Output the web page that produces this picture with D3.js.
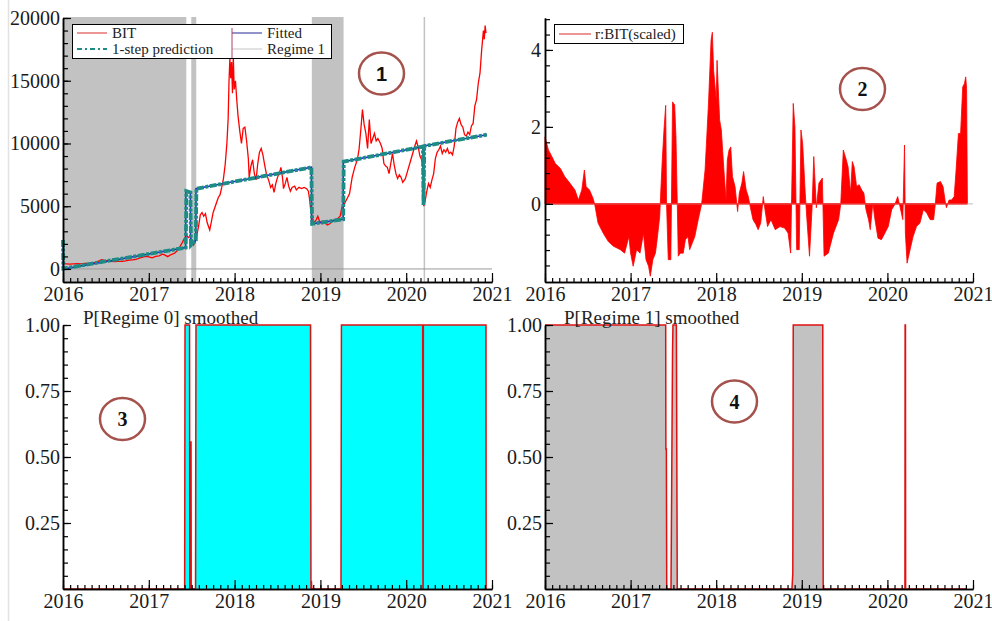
<!DOCTYPE html>
<html>
<head>
<meta charset="utf-8">
<script src="https://cdn.jsdelivr.net/npm/d3@7"></script>
<style>
  body { margin: 0; background: #fff; }
  svg { display: block; font-family: "Liberation Serif", "Times New Roman", serif; }
</style>
</head>
<body>
<svg id="fig" width="992" height="621"></svg>
<script>
// ---------- data ----------
const yearTicks = [2016, 2017, 2018, 2019, 2020, 2021];

// BIT price (decimal year, USD)
const bitDates = [
  2016.00,2016.04,2016.08,2016.12,2016.17,2016.21,2016.25,2016.29,2016.33,2016.38,
  2016.42,2016.45,2016.48,2016.52,2016.56,2016.60,2016.64,2016.69,2016.73,2016.77,
  2016.81,2016.85,2016.90,2016.94,2016.98,2017.01,2017.04,2017.08,2017.12,2017.16,
  2017.19,2017.22,2017.26,2017.30,2017.33,2017.36,2017.39,2017.42,2017.44,2017.46,
  2017.48,2017.50,2017.52,2017.54,2017.56,2017.58,2017.60,2017.62,2017.64,2017.66,
  2017.68,2017.71,2017.73,2017.75,2017.77,2017.79,2017.81,2017.83,2017.85,2017.87,
  2017.89,2017.91,2017.925,2017.935,2017.945,2017.955,2017.965,2017.975,2017.985,2017.995,
  2018.01,2018.025,2018.04,2018.06,2018.08,2018.10,2018.12,2018.14,2018.16,2018.17,
  2018.19,2018.21,2018.23,2018.25,2018.27,2018.29,2018.31,2018.33,2018.35,2018.37,
  2018.40,2018.42,2018.44,2018.46,2018.48,2018.50,2018.52,2018.54,2018.56,2018.57,
  2018.59,2018.61,2018.63,2018.65,2018.67,2018.70,2018.72,2018.75,2018.78,2018.81,
  2018.84,2018.86,2018.875,2018.89,2018.91,2018.93,2018.95,2018.97,2018.99,2019.02,
  2019.05,2019.08,2019.11,2019.14,2019.17,2019.20,2019.23,2019.25,2019.28,2019.31,
  2019.34,2019.37,2019.40,2019.43,2019.45,2019.47,2019.49,2019.51,2019.53,2019.55,
  2019.57,2019.59,2019.61,2019.63,2019.65,2019.67,2019.70,2019.72,2019.74,2019.76,
  2019.78,2019.80,2019.82,2019.84,2019.86,2019.88,2019.90,2019.92,2019.94,2019.96,
  2019.99,2020.02,2020.05,2020.08,2020.10,2020.12,2020.14,2020.16,2020.18,2020.195,
  2020.205,2020.22,2020.24,2020.26,2020.28,2020.30,2020.32,2020.34,2020.36,2020.38,
  2020.40,2020.42,2020.44,2020.46,2020.48,2020.50,2020.52,2020.54,2020.56,2020.58,
  2020.60,2020.62,2020.64,2020.66,2020.68,2020.70,2020.72,2020.74,2020.76,2020.78,
  2020.80,2020.82,2020.84,2020.86,2020.88,2020.90,2020.91,2020.92,2020.93
];
const bitPrices = [
  420,400,380,410,420,410,440,450,460,530,
  640,740,680,660,600,580,600,610,640,700,
  730,760,880,960,1000,950,880,1000,1050,1180,
  1100,980,1150,1250,1450,1750,2100,2500,2700,2500,
  2600,2300,1900,2100,2700,3400,4300,4500,4200,4400,
  3700,3100,3800,4500,4900,5300,5700,5900,6500,7200,
  8300,10000,12000,15000,16800,15200,16500,14000,16900,14300,
  15000,13500,12200,11000,10000,11200,11300,10200,8800,7300,
  8200,8700,7600,7100,8400,9300,9600,9100,8300,7600,
  7000,6500,6700,6100,6800,7300,7600,8100,7200,6400,
  6800,7300,6600,6200,6500,6600,6300,6500,6400,6500,
  6400,6200,5500,4500,4000,3700,3900,4200,3800,3600,
  3700,3500,3600,3800,3950,4000,4200,4900,5200,5600,
  6000,7300,8100,8700,9500,11000,12700,11500,10800,9600,
  11900,10000,10400,10800,10200,10400,10000,9600,8400,8200,
  8100,7600,8400,9200,8300,7600,7200,7500,7300,6900,
  7200,7900,8600,9300,9800,10200,9700,9000,8700,7900,
  5000,5400,6200,6800,6500,7100,7600,8800,9300,9500,
  9800,9200,9500,9300,9600,9200,9300,9100,9800,11200,
  11700,12000,11500,11300,10700,10600,10900,10700,11400,11600,
  13000,13500,14800,15600,17500,19000,18300,19400,18800
];

// Fitted values (regime means)
const fitDates  = [2016.000,2016.003,2017.430,2017.432,2017.485,2017.487,2017.548,2017.550,2018.895,2018.897,2019.265,2019.267,2020.195,2020.197,2020.207,2020.940];
const fitValues = [2100,0,1700,6200,6100,1900,2300,6400,8100,3600,3950,8550,9750,5200,9800,10700];

// 1-step predictions
const predDates  = [2016.000,2016.004,2017.430,2017.434,2017.437,2017.485,2017.488,2017.492,2017.548,2017.551,2017.555,2018.895,2018.898,2018.901,2018.904,2019.265,2019.268,2019.272,2020.195,2020.198,2020.202,2020.206,2020.210,2020.940];
const predValues = [2300,30,1700,3500,6200,6100,4000,1900,2300,4500,6400,8100,6500,4800,3600,3950,5500,8550,9750,7500,5100,7000,9800,10700];

// Periods classified as regime 1 (start, end)
const regime1Start = [2016.000, 2017.495, 2018.900, 2020.203];
const regime1End   = [2017.437, 2017.553, 2019.270, 2020.208];

// Scaled residuals r:BIT
const resDates = [
  2016.00,2016.04,2016.08,2016.12,2016.18,2016.23,2016.29,2016.35,2016.39,2016.43,
  2016.46,2016.48,2016.52,2016.56,2016.58,2016.62,2016.68,2016.74,2016.80,2016.88,
  2016.93,2016.98,2017.00,2017.03,2017.07,2017.11,2017.15,2017.18,2017.21,2017.23,
  2017.26,2017.29,2017.31,2017.34,2017.35,2017.37,2017.39,2017.41,2017.42,2017.44,
  2017.47,2017.49,2017.515,2017.53,2017.545,2017.557,2017.58,2017.615,2017.64,2017.67,
  2017.69,2017.75,2017.79,2017.83,2017.87,2017.91,2017.94,2017.955,2017.97,2018.00,
  2018.01,2018.04,2018.06,2018.09,2018.115,2018.13,2018.15,2018.17,2018.19,2018.22,
  2018.25,2018.27,2018.30,2018.32,2018.35,2018.375,2018.40,2018.43,2018.465,2018.49,
  2018.52,2018.55,2018.57,2018.60,2018.64,2018.69,2018.745,2018.80,2018.84,2018.87,
  2018.90,2018.92,2018.94,2018.97,2018.99,2019.01,2019.04,2019.06,2019.09,2019.12,
  2019.14,2019.17,2019.20,2019.24,2019.26,2019.31,2019.37,2019.43,2019.455,2019.485,
  2019.52,2019.54,2019.57,2019.59,2019.61,2019.64,2019.67,2019.70,2019.725,2019.75,
  2019.78,2019.80,2019.83,2019.855,2019.89,2019.93,2019.97,2020.01,2020.05,2020.09,
  2020.12,2020.15,2020.18,2020.20,2020.21,2020.23,2020.265,2020.30,2020.34,2020.38,
  2020.42,2020.46,2020.50,2020.54,2020.56,2020.58,2020.62,2020.65,2020.68,2020.69,
  2020.72,2020.75,2020.78,2020.80,2020.83,2020.855,2020.88,2020.90,2020.915,2020.925,
  2020.935
];
const resValues = [
  1.74,1.40,1.23,1.05,0.92,0.71,0.54,0.36,0.10,0.36,
  0.88,0.45,0.36,0.15,0.00,-0.50,-0.76,-0.98,-1.10,-1.19,
  -1.28,-0.85,-1.28,-1.62,-1.19,-1.28,-0.76,-1.45,-1.62,-1.88,
  -1.45,-1.28,-0.93,-0.33,0.19,1.14,1.92,2.56,0.00,-1.45,
  -1.45,2.65,2.57,1.74,0.03,-1.36,-1.28,-1.28,-0.93,-0.85,
  -1.19,-0.85,-0.41,0.00,0.88,2.61,4.25,4.46,3.47,2.69,
  3.73,2.18,1.92,0.88,0.10,1.14,1.40,1.48,0.71,0.45,
  -0.20,0.28,0.54,0.84,0.36,0.19,-0.10,-0.41,-0.54,-0.67,
  -0.50,0.19,-0.15,-0.59,-0.41,-0.67,-0.59,-0.63,-0.76,-1.28,
  2.61,2.00,-1.19,-1.19,1.92,1.57,0.28,-0.41,-1.36,-0.10,
  1.23,-0.10,0.54,0.67,-1.36,-1.28,-0.76,-0.41,0.00,1.40,
  1.14,0.97,0.28,1.10,0.97,0.45,0.50,0.36,0.28,-0.15,
  -0.41,-0.67,0.02,-0.41,-0.89,-0.93,-0.76,-0.59,-0.15,0.00,
  0.19,-0.10,-0.41,1.53,-0.76,-1.54,-1.19,-0.85,-0.59,-0.50,
  -0.15,-0.24,-0.41,-0.41,0.00,0.54,0.58,0.45,0.00,-0.10,
  0.10,0.10,0.19,0.80,1.83,1.83,3.04,3.13,3.30,3.00,
  0.00
];

// Smoothed regime probabilities
const p0Dates  = [2016.000,2017.418,2017.422,2017.475,2017.478,2017.490,2017.492,2017.494,2017.545,2017.550,2018.885,2018.890,2018.895,2018.900,2019.240,2019.245,2020.192,2020.195,2020.198,2020.200,2020.930,2020.932];
const p0Values = [0,0,1,1,0,0,0.56,0,0,1,1,0,0.03,0,0,1,1,0,0,1,1,0];
const p1Dates  = [2016.000,2017.410,2017.412,2017.418,2017.422,2017.472,2017.490,2017.495,2017.535,2017.545,2018.885,2018.895,2018.900,2019.245,2019.250,2020.205,2020.207,2020.211,2020.213,2020.930];
const p1Values = [1,1,0.53,0.53,0,0,0.9,1,1,0,0,0.06,1,1,0,0,1,1,0,0];

// ---------- drawing ----------
const svg = d3.select("#fig");
const FONT = 20;
const zip = (a, b) => a.map((d, i) => [d, b[i]]);
const monthTicks = d3.range(0, 61).map(i => 2016 + i / 12);

// faint frame line at the far left
svg.append("line").attr("x1", 8.5).attr("x2", 8.5).attr("y1", 0).attr("y2", 621)
  .attr("stroke", "#e2e2e2").attr("stroke-width", 1.5);

function styleAxis(g) {
  g.select(".domain").attr("stroke", "#000").attr("stroke-width", 1.5);
  g.selectAll(".tick line").attr("stroke", "#000").attr("stroke-width", 1.2);
  g.selectAll(".tick text").attr("font-size", FONT).attr("fill", "#1a1a1a")
    .attr("font-family", '"Liberation Serif", serif');
}

function drawXAxis(x, yPos, pad) {
  svg.append("g").attr("transform", `translate(0,${yPos})`)
    .call(d3.axisBottom(x).tickValues(monthTicks).tickFormat("").tickSize(-4).tickSizeOuter(0))
    .call(styleAxis);
  svg.append("g").attr("transform", `translate(0,${yPos})`)
    .call(d3.axisBottom(x).tickValues(yearTicks).tickFormat(d3.format("d")).tickSize(-9).tickSizeOuter(0).tickPadding(pad))
    .call(styleAxis);
}

function drawYAxis(y, xPos, major, minor, fmt, pad) {
  svg.append("g").attr("transform", `translate(${xPos},0)`)
    .call(d3.axisLeft(y).tickValues(minor).tickFormat("").tickSize(-5).tickSizeOuter(0))
    .call(styleAxis);
  svg.append("g").attr("transform", `translate(${xPos},0)`)
    .call(d3.axisLeft(y).tickValues(major).tickFormat(fmt).tickSize(-8).tickSizeOuter(0).tickPadding(pad))
    .call(styleAxis);
}

function badge(cx, cy, label, sans) {
  svg.append("ellipse").attr("cx", cx).attr("cy", cy).attr("rx", 22.5).attr("ry", 21)
    .attr("fill", "none").attr("stroke", "#a5514c").attr("stroke-width", 2.5);
  svg.append("text").attr("x", cx).attr("y", cy + 7).attr("text-anchor", "middle")
    .attr("font-size", 20).attr("font-weight", "bold").attr("fill", "#111")
    .attr("font-family", sans ? '"Liberation Sans", Arial, sans-serif' : '"Liberation Serif", serif')
    .text(label);
}

// ===== Panel 1: BIT with fitted values and regime shading =====
{
  const x = d3.scaleLinear().domain([2016, 2021]).range([63, 492]);
  const y = d3.scaleLinear().domain([-1040, 20000]).range([282, 18]);
  const g = svg.append("g");

  g.selectAll("rect.reg").data(d3.zip(regime1Start, regime1End)).join("rect")
    .attr("x", d => x(d[0])).attr("y", 17)
    .attr("width", d => Math.max(1.5, x(d[1]) - x(d[0])))
    .attr("height", 282 - 17).attr("fill", "#c2c2c2");

  g.append("line").attr("x1", x(2016)).attr("x2", x(2021)).attr("y1", y(0)).attr("y2", y(0))
    .attr("stroke", "#9a9a9a").attr("stroke-width", 1);

  const line = d3.line().x(d => x(d[0])).y(d => y(d[1]));
  g.append("path").attr("d", line(zip(bitDates, bitPrices)))
    .attr("fill", "none").attr("stroke", "#ff0000").attr("stroke-width", 1.3);
  g.append("path").attr("d", line(zip(fitDates, fitValues)))
    .attr("fill", "none").attr("stroke", "#1f2fd0").attr("stroke-width", 1.6);
  g.append("path").attr("d", line(zip(predDates, predValues)))
    .attr("fill", "none").attr("stroke", "#1d8c84").attr("stroke-width", 3.8)
    .attr("stroke-dasharray", "7,1.5,3,1.5");

  drawXAxis(x, 282, 5);
  drawYAxis(y, 63, [0, 5000, 10000, 15000, 20000], d3.range(0, 20001, 1000), d3.format("d"), 3);

  // legend
  const L = svg.append("g");
  L.append("rect").attr("x", 72.5).attr("y", 24.5).attr("width", 259).attr("height", 34)
    .attr("fill", "#fff").attr("stroke", "#000").attr("stroke-width", 1);
  const item = (x1, yy, color, w, dash, label) => {
    L.append("line").attr("x1", x1).attr("x2", x1 + 30).attr("y1", yy).attr("y2", yy)
      .attr("stroke", color).attr("stroke-width", w).attr("stroke-dasharray", dash);
    L.append("text").attr("x", x1 + 35).attr("y", yy + 5).attr("font-size", 15).attr("fill", "#222").text(label);
  };
  item(77, 33, "#e05050", 1.2, null, "BIT");
  item(77, 49, "#1d8c84", 2.2, "5,3,2,3", "1-step prediction");
  item(232, 33, "#4a4aa8", 1.2, null, "Fitted");
  item(232, 49, "#cfcfcf", 1.2, null, "Regime 1");
  L.append("line").attr("x1", 232).attr("x2", 232).attr("y1", 28).attr("y2", 58)
    .attr("stroke", "#b04060").attr("stroke-width", 1);

  badge(381.5, 73.5, "1", true);
}

// ===== Panel 2: scaled residuals =====
{
  const x = d3.scaleLinear().domain([2016, 2021]).range([545, 973]);
  const y = d3.scaleLinear().domain([-2.03, 4.83]).range([282, 18]);
  const g = svg.append("g");
  const data = zip(resDates, resValues);

  g.append("path").attr("d", d3.area()
      .x(d => x(d[0])).y0(y(0)).y1(d => y(d[1]))(data))
    .attr("fill", "#ff0000").attr("stroke", "#ff0000").attr("stroke-width", 0.8);
  g.append("line").attr("x1", x(2016)).attr("x2", x(2021)).attr("y1", y(0)).attr("y2", y(0))
    .attr("stroke", "#bdbdbd").attr("stroke-width", 1);
  g.append("line").attr("x1", x(2016)).attr("x2", x(resDates[resDates.length - 1])).attr("y1", y(0)).attr("y2", y(0))
    .attr("stroke", "#ff0000").attr("stroke-width", 1);

  drawXAxis(x, 282, 5);
  drawYAxis(y, 545, [0, 2, 4], d3.range(-1.6, 4.81, 0.4).map(v => +v.toFixed(1)), d3.format("d"), 4);

  const L = svg.append("g");
  L.append("rect").attr("x", 554.5).attr("y", 24.5).attr("width", 129).attr("height", 19)
    .attr("fill", "#fff").attr("stroke", "#000").attr("stroke-width", 1);
  L.append("line").attr("x1", 559).attr("x2", 591).attr("y1", 34).attr("y2", 34)
    .attr("stroke", "#e05050").attr("stroke-width", 1.2);
  L.append("text").attr("x", 595).attr("y", 39).attr("font-size", 15).attr("fill", "#222").text("r:BIT(scaled)");

  badge(862.5, 89, "2", false);
}

// ===== Panels 3 and 4: smoothed regime probabilities =====
function probPanel(x0, x1, dates, values, fill, title, titleX) {
  const x = d3.scaleLinear().domain([2016, 2021]).range([x0, x1]);
  const y = d3.scaleLinear().domain([0, 1]).range([589, 325]);
  const data = zip(dates, values);
  const g = svg.append("g");
  g.append("path").attr("d", d3.area().x(d => x(d[0])).y0(y(0)).y1(d => y(d[1]))(data))
    .attr("fill", fill);
  drawXAxis(x, 589, 5);
  drawYAxis(y, x0, [0.25, 0.5, 0.75, 1], d3.range(1, 21).map(i => i * 0.05), d3.format(".2f"), 3);
  g.append("path").attr("d", d3.line().x(d => x(d[0])).y(d => y(d[1]))(data))
    .attr("fill", "none").attr("stroke", "#e01010").attr("stroke-width", 1.5);
  svg.append("text").attr("x", titleX).attr("y", 324).attr("font-size", 19)
    .attr("fill", "#222").text(title);
}
probPanel(63, 492, p0Dates, p0Values, "#00ffff", "P[Regime 0] smoothed", 83);
probPanel(545, 973, p1Dates, p1Values, "#c2c2c2", "P[Regime 1] smoothed", 564);
badge(122.5, 419, "3", false);
badge(734.5, 401.5, "4", false);
</script>
</body>
</html>
